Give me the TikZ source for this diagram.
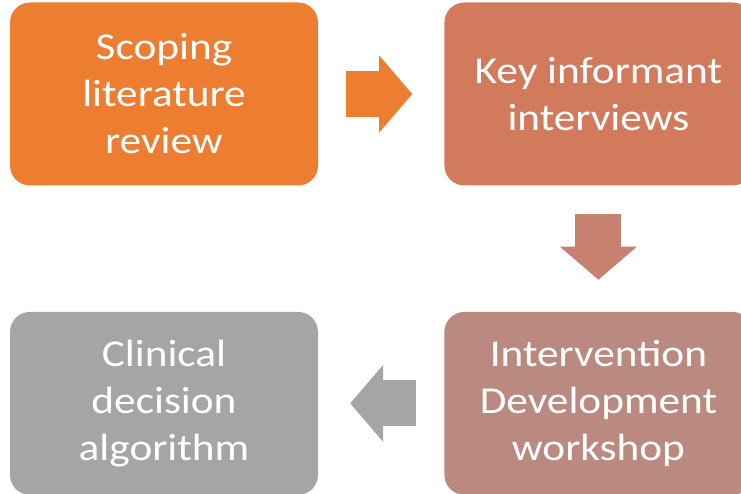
\documentclass[tikz,border=0pt]{standalone}
\usepackage{fontspec}
\setmainfont{Carlito}[FakeStretch=1.14]
\usetikzlibrary{positioning, arrows.meta}
\definecolor{ScopeOrange}{HTML}{ED7D31}
\definecolor{KeyRust}{HTML}{D27B5C}
\definecolor{DevRose}{HTML}{BA8A80}
\definecolor{DownRose}{HTML}{C68170}
\definecolor{AlgoGray}{HTML}{A5A5A5}
\tikzstyle{Stage} = [
rectangle,
rounded corners=20pt,
minimum width=308pt,
minimum height=183pt,
inner sep=0pt,
align=center,
text=white,
font=\fontsize{38}{47}\selectfont]
\tikzstyle{Block} = [
line width=46pt,
-{Triangle[length=33pt, width=77pt, line width=0pt]},
shorten <= 28pt, shorten >= 32pt]

\begin{document}
\begin{tikzpicture}[x=1pt, y=-1pt, node distance=126pt]
    \useasboundingbox (0,0) rectangle (741,494);
    \clip (0,0) rectangle (741,494);
    \node (1) [Stage, fill=ScopeOrange] at (164,94) {Scoping\\literature\\review};
    \node [Stage, fill=KeyRust, right =of 1] (2) {Key informant\\interviews};
    \node [Stage, fill=DevRose, below =of 2] (3) {Intervention\\Development\\workshop};
    \node [Stage, fill=AlgoGray, left =of 3] (4) {Clinical\\decision\\algorithm};
    \draw[Block, ScopeOrange] (1.east) -- (2.west);
    \draw[Block, DownRose] (2.south) -- (3.north);
    \draw[Block, AlgoGray] (3.west) -- (4.east);
\end{tikzpicture}
\end{document}
